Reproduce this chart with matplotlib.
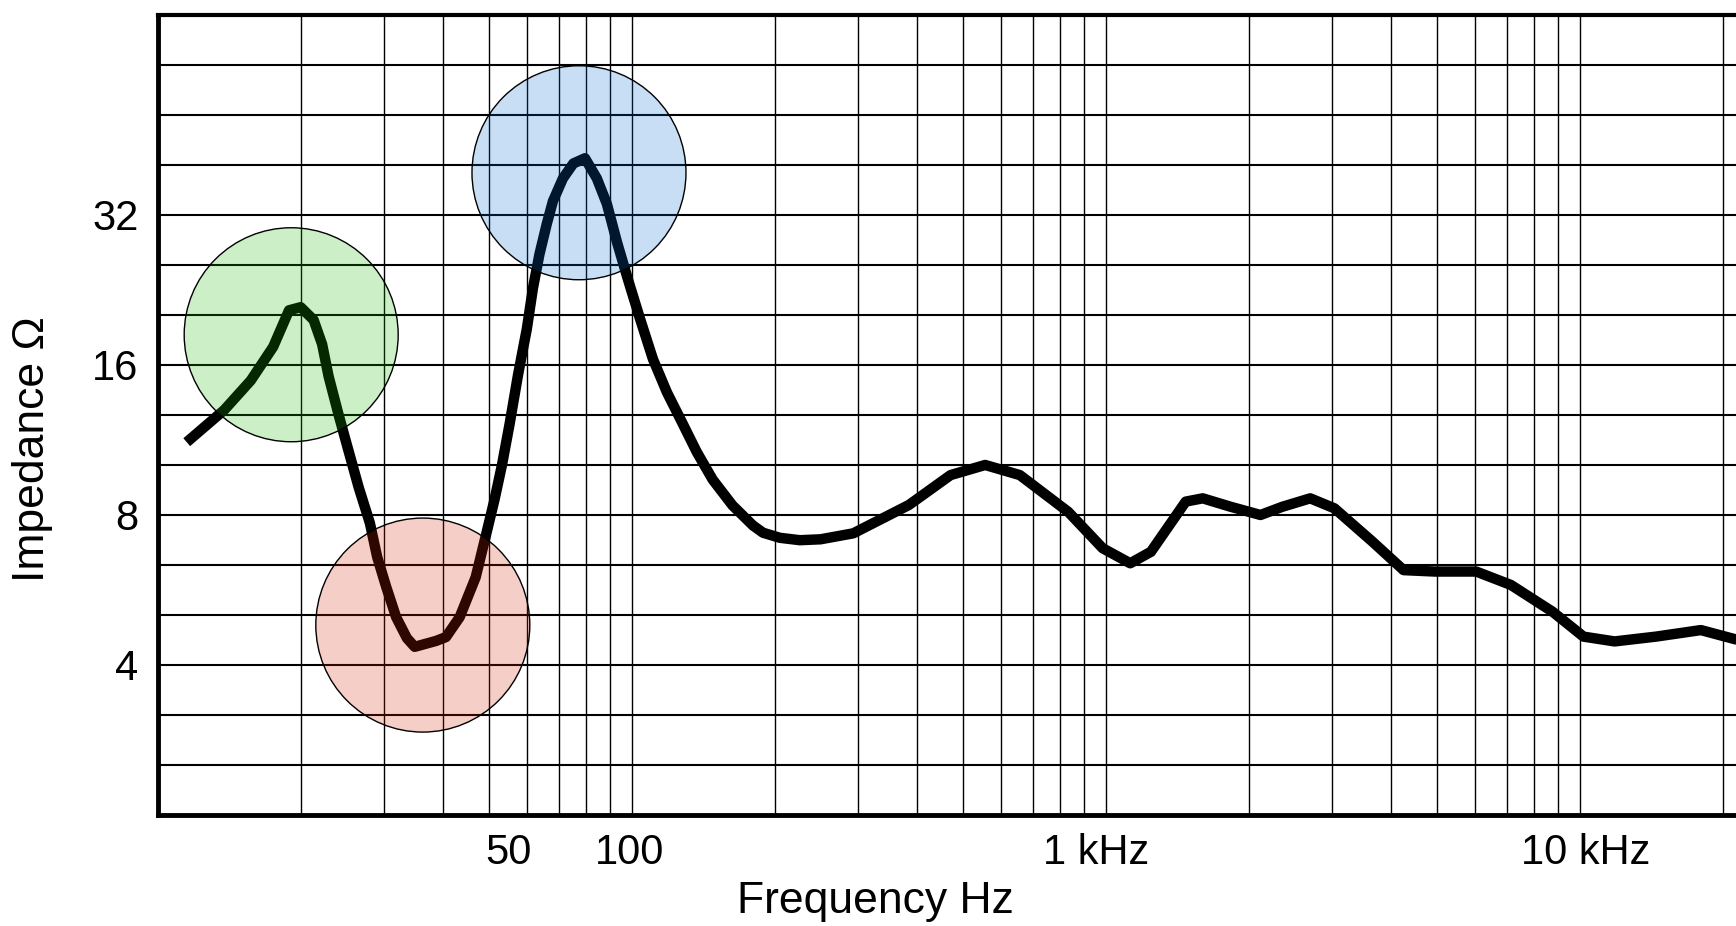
import numpy as np
import matplotlib
matplotlib.use("Agg")
import matplotlib.pyplot as plt
import matplotlib.transforms as mtransforms
from matplotlib.ticker import FixedLocator, LogLocator, NullFormatter

plt.rcParams['font.family'] = ['Liberation Sans', 'DejaVu Sans']

# impedance curve (Hz, ohm)
freq = [11.5, 13.8, 15.7, 17.5, 18.9, 20.0, 21.3, 22.2, 22.9, 24.0,
        25.1, 26.5, 28.0, 29.0, 30.3, 31.8, 33.5, 34.8, 38.6, 40.5,
        43.3, 46.8, 49.3, 51.3, 53.2, 55.2, 57.5, 60.0, 61.8, 63.8,
        66.1, 68.1, 71.5, 75.2, 79.6, 84.3, 88.5, 93.0, 98.0, 104,
        110.7, 118.5, 126.3, 137, 148, 163, 180, 189, 205, 226,
        250, 293, 384, 470, 556, 658,
        832, 984, 1125, 1244, 1473, 1600, 1832, 2118, 2356, 2697,
        3033, 3650, 4245, 4936, 6040, 7148, 8743, 10170, 11830, 14460,
        17990, 21530]
imp = [11.2, 13.0, 14.9, 17.4, 20.6, 20.9, 19.7, 17.6, 15.2, 12.8,
       10.96, 9.1, 7.7, 6.59, 5.74, 4.99, 4.53, 4.35, 4.47, 4.55,
       4.99, 6.0, 7.35, 8.6, 10.1, 12.2, 15.3, 18.9, 22.8, 26.7,
       30.7, 34.1, 37.9, 40.6, 41.6, 37.9, 33.7, 28.2, 23.8, 19.8,
       16.45, 14.1, 12.5, 10.7, 9.42, 8.36, 7.62, 7.37, 7.2, 7.12,
       7.15, 7.35, 8.38, 9.62, 10.08, 9.62,
       8.12, 6.86, 6.4, 6.75, 8.51, 8.64, 8.31, 8.0, 8.31, 8.64,
       8.25, 7.07, 6.2, 6.16, 6.16, 5.79, 5.12, 4.56, 4.46, 4.56,
       4.70, 4.49]

# highlighted regions
hl_freq = [19.1, 36.2, 77.3]
hl_imp = [18.4, 4.81, 38.9]
hl_colors = [(0.11, 0.73, 0.02), (0.82, 0.14, 0.0), (0.02, 0.41, 0.82)]

x_ticks = [50, 100, 1000, 10000]
x_ticklabels = ['50', '100', '1 kHz', '10 kHz']
y_ticks = [4, 8, 16, 32]
y_ticklabels = ['4', '8', '16', '32']

fig = plt.figure(figsize=(17.36, 9.26), dpi=100)
ax = fig.add_axes([0.091, 0.1199, 0.909, 0.8639])
ax.set_xscale('log')
ax.set_yscale('log', base=2)
ax.set_xlim(10, 10 ** (1 + (1736 - 158) / 474))
ax.set_ylim(2, 2 ** (1 + 16 / 3))

ax.plot(freq, imp, color='black', lw=7.5, solid_capstyle='butt',
        solid_joinstyle='round', zorder=3)

ax.scatter(hl_freq, hl_imp, s=(2 * 107 * 0.72) ** 2,
           facecolors=[(*c, 0.22) for c in hl_colors],
           edgecolors='black', linewidths=1.0, zorder=4)

# grid: every 1..9 per decade, every third of an octave
ax.xaxis.set_minor_locator(LogLocator(base=10, subs=np.arange(1, 10), numticks=100))
ax.yaxis.set_minor_locator(FixedLocator([2 * 2 ** (k / 3) for k in range(17)]))
ax.xaxis.set_minor_formatter(NullFormatter())
ax.yaxis.set_minor_formatter(NullFormatter())
ax.xaxis.remove_overlapping_locs = False
ax.yaxis.remove_overlapping_locs = False
ax.grid(which='minor', axis='x', color='black', lw=1.0)
ax.grid(which='minor', axis='y', color='black', lw=1.5)
ax.grid(which='major', visible=False)

ax.set_xticks(x_ticks)
ax.set_xticklabels(x_ticklabels)
ax.set_yticks(y_ticks)
ax.set_yticklabels(y_ticklabels)
ax.tick_params(which='both', length=0)
ax.tick_params(axis='x', pad=13, labelsize=30)
ax.tick_params(axis='y', pad=14, labelsize=30)

for lbl, dx in zip(ax.get_xticklabels(), [19, -2, -10, 6]):
    lbl.set_transform(lbl.get_transform() +
                      mtransforms.ScaledTranslation(dx / 100, 0, fig.dpi_scale_trans))

ax.spines['right'].set_visible(False)
ax.spines['left'].set_linewidth(3.5)
ax.spines['bottom'].set_linewidth(3.5)
ax.spines['top'].set_linewidth(3.0)

fig.text(0.504, 0.026, 'Frequency Hz', ha='center', va='center', fontsize=32)
fig.text(0.019, 0.515, 'Impedance Ω', rotation=90, ha='center', va='center', fontsize=32)

fig.savefig('out.png', dpi=100)
